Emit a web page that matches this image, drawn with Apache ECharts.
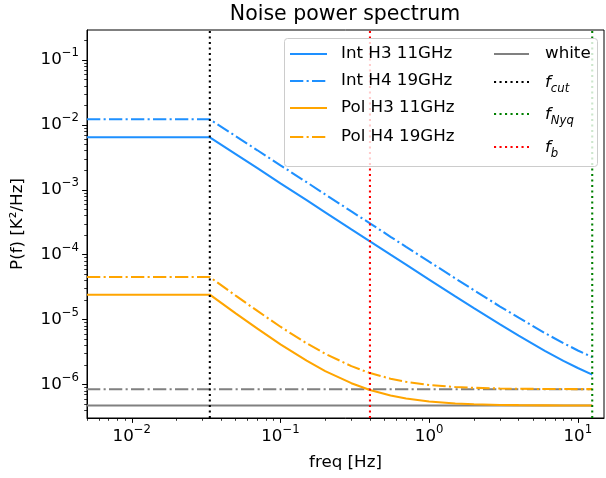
<!DOCTYPE html>
<html><head><meta charset="utf-8">
<script src="https://cdn.jsdelivr.net/npm/echarts@6/dist/echarts.min.js"></script>
<style>html,body{margin:0;padding:0;background:#fff}#c{width:606px;height:478px}</style>
</head><body><div id="c"></div>
<script>
// ---- data ----
const freq  = [0.005, 0.0335, 0.05, 0.07, 0.1, 0.15, 0.2, 0.3, 0.4, 0.55, 0.7, 1, 1.5, 2, 3, 4, 6, 8, 10, 12.5];
const intH3 = [6.45e-3, 6.45e-3, 3.55e-3, 2.15e-3, 1.26e-3, 6.91e-4, 4.50e-4, 2.46e-4, 1.61e-4, 1.00e-4, 7.01e-5, 4.14e-5, 2.28e-5, 1.50e-5, 8.43e-6, 5.66e-6, 3.31e-6, 2.32e-6, 1.80e-6, 1.42e-6];
const intH4 = [1.22e-2, 1.22e-2, 6.72e-3, 4.07e-3, 2.39e-3, 1.31e-3, 8.51e-4, 4.65e-4, 3.04e-4, 1.89e-4, 1.32e-4, 7.82e-5, 4.32e-5, 2.84e-5, 1.59e-5, 1.07e-5, 6.21e-6, 4.34e-6, 3.35e-6, 2.64e-6];
const polH3 = [2.42e-5, 2.42e-5, 1.25e-5, 7.25e-6, 4.17e-6, 2.33e-6, 1.61e-6, 1.05e-6, 8.24e-7, 6.78e-7, 6.09e-7, 5.48e-7, 5.11e-7, 4.97e-7, 4.85e-7, 4.81e-7, 4.78e-7, 4.76e-7, 4.755e-7, 4.75e-7];
const polH4 = [4.53e-5, 4.53e-5, 2.34e-5, 1.36e-5, 7.77e-6, 4.32e-6, 2.98e-6, 1.92e-6, 1.50e-6, 1.23e-6, 1.10e-6, 9.85e-7, 9.16e-7, 8.90e-7, 8.68e-7, 8.60e-7, 8.54e-7, 8.51e-7, 8.50e-7, 8.49e-7];
const whiteFreq = [0.005, 12.5];
const whiteH3 = [4.74e-7, 4.74e-7];
const whiteH4 = [8.47e-7, 8.47e-7];
const fCut = 0.0335, fNyq = 12.5, fB = 0.4;
const xRange = [0.005, 15];
const yRange = [3.05e-7, 0.29];
const xMajor = [0.01, 0.1, 1, 10];
const yMajor = [1e-6, 1e-5, 1e-4, 1e-3, 1e-2, 1e-1];
const seriesNames = ['Int H3 11GHz', 'Int H4 19GHz', 'Pol H3 11GHz', 'Pol H4 19GHz'];

// ---- helpers ----
function pts(xs, ys) { return xs.map((x, i) => [x, ys[i]]); }
function minorTicks(range) {
  const out = [];
  for (let e = Math.floor(Math.log10(range[0])); e <= Math.ceil(Math.log10(range[1])); e++) {
    for (let m = 2; m <= 9; m++) {
      const v = m * Math.pow(10, e);
      if (v >= range[0] && v <= range[1]) out.push(v);
    }
  }
  return out;
}
const FF = 'DejaVu Sans';
const FS = 16.7;
const lw = 2.08;
const dashdot = [13.3, 3.3, 2.1, 3.3];
const dotted = [2.1, 3.4];
const BLUE = '#1e90ff', ORANGE = '#ffa500', GRAY = '#808080';

function fmt(v) {
  const l = Math.log10(v), e = Math.round(l);
  if (Math.abs(l - e) > 1e-6) return '';
  return '{b|10}{s|' + (e < 0 ? '\u2212' : '') + Math.abs(e) + '}';
}
const rich = {
  b: { fontSize: FS, fontFamily: FF, color: '#000', lineHeight: 26 },
  s: { fontSize: 11.7, fontFamily: FF, color: '#000', lineHeight: 12, verticalAlign: 'top' }
};

function lineSeries(name, xs, ys, color, type, z) {
  return {
    name, type: 'line', data: pts(xs, ys), showSymbol: false, symbol: 'none',
    lineStyle: { color, width: lw, type: type || 'solid', cap: 'butt' },
    itemStyle: { color }, z: z || 2, silent: true, clip: true
  };
}
function vline(name, x, color) {
  return {
    name, type: 'line', data: [[x, yRange[0]], [x, yRange[1]]], showSymbol: false, symbol: 'none',
    lineStyle: { color, width: lw, type: dotted }, z: 5, silent: true
  };
}

const chart = echarts.init(document.getElementById('c'), null, { renderer: 'canvas' });

const legendRows1 = [54, 81, 108, 137];
const legendRows2 = [54, 82, 114, 147];
const graphics = [
  { type: 'rect', z: 100, shape: { x: 284.5, y: 38.5, width: 313, height: 128, r: 3 },
    style: { fill: 'rgba(255,255,255,0.8)', stroke: '#cccccc', lineWidth: 1 } }
];
const leg1 = [
  [seriesNames[0], BLUE, null], [seriesNames[1], BLUE, dashdot],
  [seriesNames[2], ORANGE, null], [seriesNames[3], ORANGE, dashdot]
];
leg1.forEach((d, i) => {
  graphics.push({ type: 'line', z: 101, shape: { x1: 290, y1: legendRows1[i], x2: 327, y2: legendRows1[i] },
    style: { stroke: d[1], lineWidth: lw, lineDash: d[2] } });
  graphics.push({ type: 'text', z: 101, x: 341, y: legendRows1[i],
    style: { text: d[0], fontSize: FS, fontFamily: FF, fill: '#000', align: 'left', verticalAlign: 'middle' } });
});
const leg2 = [
  ['white', GRAY, null], ['{f|f}{s|cut}', '#000', dotted],
  ['{f|f}{s|Nyq}', 'green', dotted], ['{f|f}{s|b}', 'red', dotted]
];
const legRich = {
  f: { fontSize: FS, fontFamily: FF, fontStyle: 'italic', fill: '#000', lineHeight: 24 },
  s: { fontSize: 11.7, fontFamily: FF, fontStyle: 'italic', fill: '#000', lineHeight: 12, verticalAlign: 'bottom' }
};
leg2.forEach((d, i) => {
  graphics.push({ type: 'line', z: 101, shape: { x1: 494, y1: legendRows2[i], x2: 529, y2: legendRows2[i] },
    style: { stroke: d[1], lineWidth: lw, lineDash: d[2] } });
  graphics.push({ type: 'text', z: 101, x: 545, y: legendRows2[i] + (i > 0 ? 1 : 0),
    style: { text: d[0], fontSize: FS, fontFamily: FF, fill: '#000', align: 'left', verticalAlign: 'middle', rich: legRich } });
});

const axisCommon = { splitLine: { show: false } };
chart.setOption({
  animation: false,
  backgroundColor: '#fff',
  title: { text: 'Noise power spectrum', left: 345, top: 4, padding: 0, textAlign: 'center',
    textStyle: { fontFamily: FF, fontSize: 20.5, fontWeight: 'normal', color: '#000' } },
  grid: { left: 87, right: 2, top: 30, bottom: 60, show: true, borderColor: '#000', borderWidth: 1, backgroundColor: 'transparent' },
  xAxis: [
    Object.assign({}, axisCommon, {
      type: 'log', logBase: 10, min: xRange[0], max: xRange[1], position: 'bottom',
      axisLine: { show: true, onZero: false, lineStyle: { color: '#000', width: 1 } },
      axisTick: { show: true, length: 4.9, customValues: xMajor, lineStyle: { color: '#000', width: 1 } },
      axisLabel: { show: true, customValues: xMajor, formatter: fmt, margin: 6, rich: rich },
      name: 'freq [Hz]', nameLocation: 'middle', nameGap: 36,
      nameTextStyle: { fontFamily: FF, fontSize: FS, color: '#000' }
    }),
    Object.assign({}, axisCommon, {
      type: 'log', logBase: 10, min: xRange[0], max: xRange[1], position: 'bottom',
      axisLine: { show: false, onZero: false },
      axisTick: { show: true, length: 2.8, customValues: minorTicks(xRange), lineStyle: { color: '#000', width: 0.8 } },
      axisLabel: { show: false }
    })
  ],
  yAxis: [
    Object.assign({}, axisCommon, {
      type: 'log', logBase: 10, min: yRange[0], max: yRange[1], position: 'left',
      axisLine: { show: true, onZero: false, lineStyle: { color: '#000', width: 1 } },
      axisTick: { show: true, length: 4.9, customValues: yMajor, lineStyle: { color: '#000', width: 1 } },
      axisLabel: { show: true, customValues: yMajor, formatter: fmt, margin: 8, rich: rich },
      name: 'P(f) [K\u00b2/Hz]', nameLocation: 'middle', nameGap: 61,
      nameTextStyle: { fontFamily: FF, fontSize: FS, color: '#000' }
    }),
    Object.assign({}, axisCommon, {
      type: 'log', logBase: 10, min: yRange[0], max: yRange[1], position: 'left',
      axisLine: { show: false, onZero: false },
      axisTick: { show: true, length: 2.8, customValues: minorTicks(yRange), lineStyle: { color: '#000', width: 0.8 } },
      axisLabel: { show: false }
    })
  ],
  series: [
    lineSeries('white', whiteFreq, whiteH3, GRAY, 'solid', 1),
    lineSeries('white H4', whiteFreq, whiteH4, GRAY, dashdot, 1),
    lineSeries(seriesNames[0], freq, intH3, BLUE, 'solid', 2),
    lineSeries(seriesNames[1], freq, intH4, BLUE, dashdot, 2),
    lineSeries(seriesNames[2], freq, polH3, ORANGE, 'solid', 3),
    lineSeries(seriesNames[3], freq, polH4, ORANGE, dashdot, 3),
    vline('f_cut', fCut, '#000'),
    vline('f_Nyq', fNyq, 'green'),
    vline('f_b', fB, 'red')
  ],
  graphic: graphics
});
</script>
</body></html>
